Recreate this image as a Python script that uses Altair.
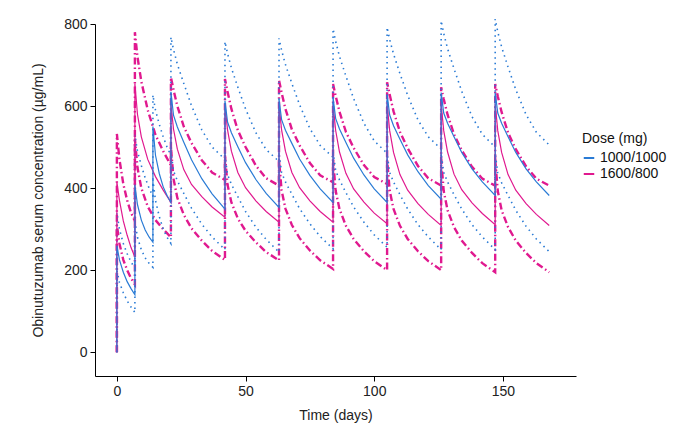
import altair as alt
import pandas as pd

# Time grids (days)
days_blue = [0,
             0, 1, 2.5, 4, 5.5, 7,
             7, 8, 9.5, 11, 12.5, 14,
             14, 15, 16.5, 18, 19.5, 21,
             21, 22, 23.5, 26, 29, 33, 37, 42,
             42, 43, 44.5, 47, 50, 54, 58, 63,
             63, 64, 65.5, 68, 71, 75, 79, 84,
             84, 85, 86.5, 89, 92, 96, 100, 105,
             105, 106, 107.5, 110, 113, 117, 121, 126,
             126, 127, 128.5, 131, 134, 138, 142, 147,
             147, 148, 149.5, 152, 155, 159, 163, 168]

days_pink = [0,
             0, 1, 2.5, 4, 5.5, 7,
             7, 8, 9.5, 12, 15, 18, 21,
             21, 22, 23.5, 26, 29, 33, 37, 42,
             42, 43, 44.5, 47, 50, 54, 58, 63,
             63, 64, 65.5, 68, 71, 75, 79, 84,
             84, 85, 86.5, 89, 92, 96, 100, 105,
             105, 106, 107.5, 110, 113, 117, 121, 126,
             126, 127, 128.5, 131, 134, 138, 142, 147,
             147, 148, 149.5, 152, 155, 159, 163, 168]

# 1000/1000 mg
blue_median = [0,
               260, 225, 195, 172, 155, 140,
               407, 360, 322, 298, 281, 268,
               550, 480, 435, 403, 382, 365,
               635, 578, 549, 512, 469, 423, 386, 349,
               613, 561, 535, 501, 462, 421, 387, 353,
               617, 567, 541, 509, 471, 431, 398, 365,
               621, 570, 544, 511, 473, 432, 398, 365,
               629, 578, 552, 519, 481, 440, 406, 373,
               633, 583, 558, 525, 487, 447, 415, 382,
               633, 583, 558, 525, 487, 447, 415, 382]

blue_upper = [0,
              340, 300, 265, 240, 220, 205,
              530, 490, 455, 425, 400, 380,
              627, 590, 555, 525, 500, 480,
              768, 738, 702, 655, 601, 542, 500, 470,
              757, 728, 693, 646, 593, 535, 494, 465,
              765, 736, 701, 655, 603, 545, 504, 475,
              788, 758, 721, 673, 618, 558, 515, 485,
              792, 762, 727, 679, 626, 566, 525, 495,
              808, 777, 740, 691, 636, 574, 531, 500,
              812, 781, 744, 695, 640, 579, 536, 505]

blue_lower = [0,
              200, 170, 145, 125, 110, 97,
              320, 280, 250, 230, 217, 207,
              420, 370, 330, 300, 280, 265,
              490, 442, 418, 387, 351, 312, 281, 250,
              480, 433, 409, 379, 343, 305, 275, 244,
              485, 438, 415, 385, 350, 313, 282, 252,
              490, 443, 420, 389, 354, 317, 286, 256,
              485, 438, 415, 384, 349, 311, 281, 250,
              485, 438, 415, 384, 349, 311, 281, 250,
              485, 437, 413, 382, 346, 307, 276, 245]

# 1600/800 mg
pink_median = [0,
               415, 370, 320, 285, 255, 232,
               655, 580, 525, 470, 428, 395, 365,
               605, 544, 495, 445, 409, 379, 354, 329,
               605, 542, 490, 438, 401, 369, 343, 317,
               605, 542, 490, 438, 401, 369, 343, 317,
               605, 541, 488, 436, 398, 366, 339, 313,
               605, 540, 487, 433, 395, 362, 336, 309,
               605, 540, 488, 434, 396, 364, 338, 311,
               605, 540, 487, 433, 395, 362, 336, 309]

pink_upper = [0,
              532, 470, 410, 370, 340, 320,
              780, 720, 660, 590, 530, 490, 455,
              670, 640, 600, 550, 510, 468, 438, 420,
              666, 635, 593, 541, 500, 455, 424, 406,
              663, 633, 593, 543, 504, 461, 431, 414,
              654, 625, 586, 537, 498, 456, 427, 410,
              658, 628, 587, 537, 497, 454, 424, 406,
              646, 617, 579, 531, 492, 452, 423, 406,
              654, 624, 585, 535, 495, 453, 423, 406]

pink_lower = [0,
              310, 265, 225, 200, 180, 165,
              520, 450, 400, 355, 322, 300, 280,
              500, 423, 376, 335, 302, 272, 247, 225,
              480, 408, 365, 326, 296, 268, 244, 224,
              470, 395, 350, 310, 278, 248, 224, 203,
              470, 394, 349, 308, 276, 246, 222, 200,
              470, 394, 349, 308, 276, 246, 222, 200,
              470, 393, 346, 305, 272, 242, 217, 195,
              470, 393, 346, 305, 272, 242, 217, 195]

doses = ["1000/1000", "1600/800"]
colors = ["#2a7bd5", "#e0198f"]

rows = []
for dose, stat, days, vals in [
    ("1000/1000", "median", days_blue, blue_median),
    ("1000/1000", "p95", days_blue, blue_upper),
    ("1000/1000", "p05", days_blue, blue_lower),
    ("1600/800", "median", days_pink, pink_median),
    ("1600/800", "p95", days_pink, pink_upper),
    ("1600/800", "p05", days_pink, pink_lower),
]:
    for i, (d, v) in enumerate(zip(days, vals)):
        rows.append({"day": d, "conc": v, "dose": dose, "stat": stat,
                     "series": dose + "_" + stat, "idx": i})
df = pd.DataFrame(rows)

FONT = "Liberation Sans"

x = alt.X("day:Q", title="Time (days)",
          scale=alt.Scale(domain=[-8.5, 178.4], nice=False, zero=False),
          axis=alt.Axis(values=[0, 50, 100, 150], grid=False, tickSize=5,
                        labelFontSize=14, titleFontSize=14, labelColor="#222",
                        titleColor="#222", titleFontWeight="normal",
                        domainColor="#000", tickColor="#000", labelPadding=3,
                        titlePadding=10, labelFont=FONT, titleFont=FONT))
y = alt.Y("conc:Q", title="Obinutuzumab serum concentration (µg/mL)",
          scale=alt.Scale(domain=[-58, 800], nice=False, zero=False),
          axis=alt.Axis(values=[0, 200, 400, 600, 800], grid=False, tickSize=5,
                        labelFontSize=14, titleFontSize=14, labelColor="#222",
                        titleColor="#222", titleFontWeight="normal",
                        domainColor="#000", tickColor="#000", labelPadding=3,
                        titlePadding=18, labelFont=FONT, titleFont=FONT))
color = alt.Color("dose:N", title="Dose (mg)",
                  scale=alt.Scale(domain=doses, range=colors),
                  legend=alt.Legend(symbolType="stroke", symbolStrokeWidth=2,
                                    symbolSize=110, symbolDash=[10, 0],
                                    titleFontSize=14, labelFontSize=14,
                                    titleFont=FONT, labelFont=FONT,
                                    titleFontWeight="normal", titleColor="#111",
                                    labelColor="#111", orient="none",
                                    legendX=487, legendY=108, rowPadding=2))

base = alt.Chart(df).encode(x=x, y=y, color=color, detail="series:N",
                            order="idx:Q")

pink_pct = base.transform_filter(
    (alt.datum.dose == "1600/800") & (alt.datum.stat != "median")
).mark_line(strokeWidth=2.4, strokeDash=[7, 3, 1.5, 3])
blue_pct = base.transform_filter(
    (alt.datum.dose == "1000/1000") & (alt.datum.stat != "median")
).mark_line(strokeWidth=1.6, strokeDash=[1.5, 4])
pink_med = base.transform_filter(
    (alt.datum.dose == "1600/800") & (alt.datum.stat == "median")
).mark_line(strokeWidth=1.2)
blue_med = base.transform_filter(
    (alt.datum.dose == "1000/1000") & (alt.datum.stat == "median")
).mark_line(strokeWidth=1.2)

chart = alt.layer(pink_pct, blue_pct, pink_med, blue_med).properties(
    width=481, height=352,
    padding={"left": 23, "top": 7, "right": 5, "bottom": 5},
    background="white",
).configure_view(stroke=None)

chart.save("out.html", embed_options={"renderer": "svg", "actions": False})
